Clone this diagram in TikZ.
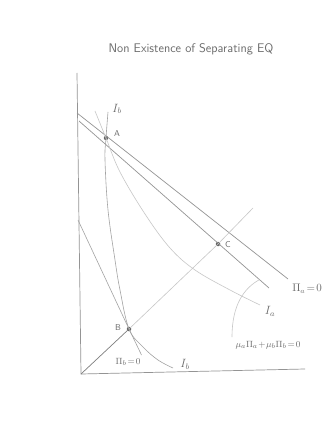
\documentclass[tikz,border=0pt]{standalone}
\usetikzlibrary{calc}
\begin{document}
\begin{tikzpicture}[x=1pt,y=-1pt,
  axis/.style={draw=black!42, line width=0.7pt},
  mainline/.style={draw=black!42, line width=0.7pt},
  faint/.style={draw=black!22, line width=0.6pt},
  icurve/.style={draw=black!36, line width=0.6pt},
  dot/.style={circle, fill=black!60, inner sep=0pt, minimum size=4.5pt},
  lbl/.style={text=black!58, inner sep=1pt},
]
\useasboundingbox (0,0) rectangle (330,427);
\fill[white] (0,0) rectangle (330,427);

\node[lbl, font=\sffamily\fontsize{12.5}{14}\selectfont] (title) at (191,49) {Non Existence of Separating EQ};

% axes
\coordinate (ytop) at (77,73);
\coordinate (O) at (81,374);
\coordinate (xend) at (305,369);
\draw[axis] (ytop) -- (O) -- (xend);

% points
\node[dot] (A) at (106,138) {};
\node[dot] (B) at (129,329) {};
\node[dot] (C) at (218,244) {};

% Pi_a = 0 line
\coordinate (pa0) at (77,113);
\coordinate (pa1) at (288,279);
\draw[mainline] (pa0) -- (pa1);

% pooled zero-profit line
\coordinate (mu0) at (79,121);
\coordinate (mu1) at (269,288);
\draw[mainline] (mu0) -- (mu1);

% Pi_b = 0 line
\coordinate (pb0) at (78,220);
\coordinate (pb1) at (141.5,355);
\draw[icurve] (pb0) -- (B.center) -- (pb1);

% ray from origin
\coordinate (rayend) at (253,208);
\draw[draw=black!50, line width=0.7pt] (O) -- (B.center);
\draw[faint] (B.center) -- (C.center) -- (rayend);

% indifference curve I_b
\draw[icurve] plot[smooth, tension=0.6] coordinates {(108,112) (A.center) (105,160) (108,210) (115,260) (120,290) (B.center) (143,347) (158,360) (173,368)};

% indifference curve I_a
\draw[faint] plot[smooth, tension=0.6] coordinates {(95,111) (A.center) (120,172) (145,214) (170,248) (195,270) (230,290) (260,305)};

% leader to the pooled line label
\coordinate (muL) at ($(mu0)!0.95!(mu1)$);
\coordinate (muLend) at (232,337);
\draw[faint] (muL) .. controls (244,288) and (232,305) .. (muLend);

% labels
\node[lbl, font=\fontsize{11.5}{12}\selectfont] (lIbtop) at (117,109) {$I_b$};
\node[lbl, font=\sffamily\fontsize{8.5}{9}\selectfont] (lA) at (117,134) {A};
\node[lbl, font=\sffamily\fontsize{8.5}{9}\selectfont] (lB) at (118,328) {B};
\node[lbl, font=\sffamily\fontsize{8.5}{9}\selectfont] (lC) at (228,245) {C};
\node[lbl, font=\fontsize{10.5}{12}\selectfont] (lPia) at (307,289) {$\Pi_a\!=\!0$};
\node[lbl, font=\fontsize{11.5}{12}\selectfont] (lIa) at (270,311) {$I_a$};
\node[lbl, font=\fontsize{9.5}{11}\selectfont] (lmu) at (268,345) {$\mu_a\Pi_a\!+\!\mu_b\Pi_b\!=\!0$};
\node[lbl, font=\fontsize{9.5}{11}\selectfont] (lPib) at (128,362) {$\Pi_b\!=\!0$};
\node[lbl, font=\fontsize{11.5}{12}\selectfont] (lIbbot) at (185,364) {$I_b$};
\end{tikzpicture}
\end{document}
